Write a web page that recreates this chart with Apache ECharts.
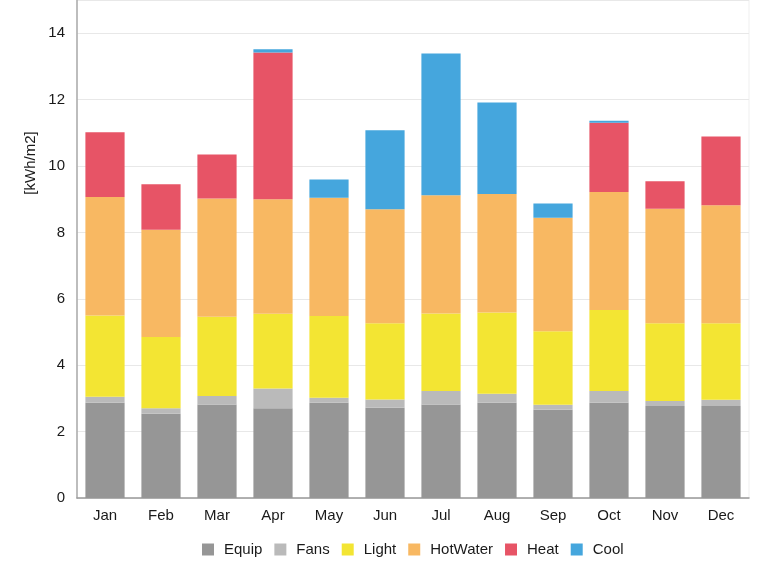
<!DOCTYPE html>
<html>
<head>
<meta charset="utf-8">
<script src="https://cdn.jsdelivr.net/npm/echarts@6/dist/echarts.min.js"></script>
<style>
html,body{margin:0;padding:0;background:#fff;}
#chart{width:776px;height:577px;}
</style>
</head>
<body>
<div id="chart"></div>
<script>
const months = ['Jan','Feb','Mar','Apr','May','Jun','Jul','Aug','Sep','Oct','Nov','Dec'];
const equip    = [2.87, 2.54, 2.82, 2.70, 2.87, 2.72, 2.82, 2.87, 2.66, 2.87, 2.77, 2.77];
const fans     = [0.18, 0.16, 0.25, 0.60, 0.15, 0.25, 0.40, 0.27, 0.15, 0.35, 0.15, 0.19];
const light    = [2.45, 2.15, 2.39, 2.25, 2.46, 2.29, 2.34, 2.45, 2.21, 2.44, 2.34, 2.30];
const hotWater = [3.57, 3.23, 3.56, 3.45, 3.56, 3.44, 3.56, 3.57, 3.42, 3.56, 3.45, 3.56];
const heat     = [1.95, 1.37, 1.33, 4.42, 0, 0, 0, 0, 0, 2.08, 0.83, 2.07];
const cool     = [0, 0, 0, 0.10, 0.55, 2.38, 4.27, 2.75, 0.43, 0.06, 0, 0];
const yTicks = [0, 2, 4, 6, 8, 10, 12, 14];

const seriesNames = ['Equip','Fans','Light','HotWater','Heat','Cool'];
const seriesData = [equip, fans, light, hotWater, heat, cool];
const colors = ['#969696','#bababa','#f3e533','#f8b862','#e75466','#45a6dd'];
const FONT = 'Liberation Sans, Arial, Helvetica, sans-serif';
const TXT = '#1a1a1a';

const chart = echarts.init(document.getElementById('chart'), null, {renderer:'canvas'});
chart.setOption({
  animation: false,
  backgroundColor: '#ffffff',
  color: colors,
  grid: {left: 77, right: 27, top: -3, bottom: 79, show: true, borderColor: '#efefef', borderWidth: 1, backgroundColor: 'transparent'},
  legend: {
    bottom: 15,
    left: 197,
    icon: 'rect',
    itemWidth: 12,
    itemHeight: 12,
    itemGap: 12,
    textStyle: {fontFamily: FONT, fontSize: 15, color: TXT, padding: [0,0,0,5]},
    data: seriesNames
  },
  xAxis: {
    type: 'category',
    data: months,
    axisLine: {lineStyle: {color: '#9a9a9a', width: 1.5}},
    axisTick: {show: false},
    axisLabel: {fontFamily: FONT, fontSize: 15, color: TXT, margin: 10}
  },
  yAxis: {
    type: 'value',
    min: yTicks[0],
    max: 15,
    interval: 2,
    axisLine: {show: true, lineStyle: {color: '#aaaaaa', width: 1.5}},
    axisTick: {show: false},
    splitLine: {lineStyle: {color: '#e8e8e8'}},
    axisLabel: {fontFamily: FONT, fontSize: 15, color: TXT, margin: 12, showMaxLabel: false,
      formatter: v => yTicks.indexOf(v) >= 0 ? String(v) : ''}
  },
  graphic: [{
    type: 'text',
    x: 31, y: 163,
    rotation: Math.PI / 2,
    style: {text: '[kWh/m2]', fontFamily: FONT, fontSize: 15, fill: TXT, align: 'center', verticalAlign: 'middle'}
  }],
  series: seriesNames.map((n, i) => ({
    name: n,
    type: 'bar',
    stack: 'total',
    barWidth: '70%',
    data: seriesData[i],
    itemStyle: {color: colors[i]}
  }))
});
</script>
</body>
</html>
